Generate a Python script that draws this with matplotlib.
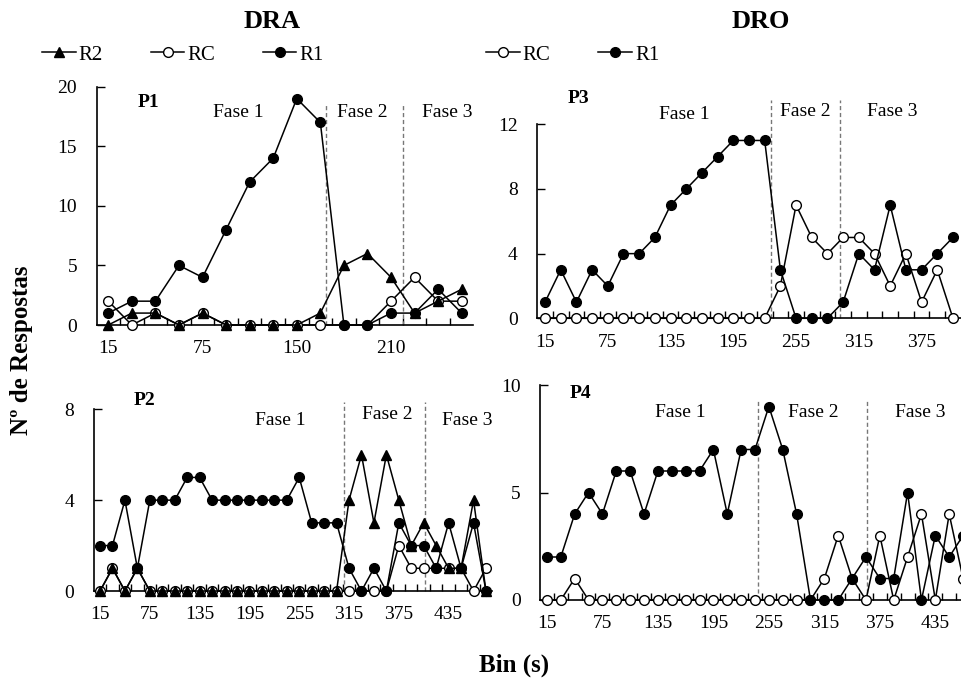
import numpy as np
import matplotlib.pyplot as plt
from matplotlib.lines import Line2D

plt.rcParams['font.family'] = ['Liberation Serif', 'DejaVu Serif']

# ---- data (responses per bin) ----
p1_r1 = [1, 2, 2, 5, 4, 8, 12, 14, 19, 17, 0, 0, 1, 1, 3, 1]
p1_r2 = [0, 1, 1, 0, 1, 0, 0, 0, 0, 1, 5, 6, 4, 1, 2, 3]
p1_rc = [2, 0, 1, 0, 1, 0, 0, 0, 0, 0, 0, 0, 2, 4, 2, 2]
p1_ticklabels = ['15', '75', '150', '210']

p2_r1 = [2, 2, 4, 1, 4, 4, 4, 5, 5, 4, 4, 4, 4, 4, 4, 4,
         5, 3, 3, 3, 1, 0, 1, 0, 3, 2, 2, 1, 3, 1, 3, 0]
p2_r2 = [0, 1, 0, 1, 0, 0, 0, 0, 0, 0, 0, 0, 0, 0, 0, 0,
         0, 0, 0, 0, 4, 6, 3, 6, 4, 2, 3, 2, 1, 1, 4, 0]
p2_rc = [0, 1, 0, 1, 0, 0, 0, 0, 0, 0, 0, 0, 0, 0, 0, 0,
         0, 0, 0, 0, 0, 0, 0, 0, 2, 1, 1, 1, 1, 1, 0, 1]
p2_ticklabels = ['15', '75', '135', '195', '255', '315', '375', '435']

p3_r1 = [1, 3, 1, 3, 2, 4, 4, 5, 7, 8, 9, 10, 11, 11, 11,
         3, 0, 0, 0, 1, 4, 3, 7, 3, 3, 4, 5]
p3_rc = [0, 0, 0, 0, 0, 0, 0, 0, 0, 0, 0, 0, 0, 0, 0,
         2, 7, 5, 4, 5, 5, 4, 2, 4, 1, 3, 0]
p3_ticklabels = ['15', '75', '135', '195', '255', '315', '375']

p4_r1 = [2, 2, 4, 5, 4, 6, 6, 4, 6, 6, 6, 6, 7, 4, 7, 7,
         9, 7, 4, 0, 0, 0, 1, 2, 1, 1, 5, 0, 3, 2, 3]
p4_rc = [0, 0, 1, 0, 0, 0, 0, 0, 0, 0, 0, 0, 0, 0, 0, 0,
         0, 0, 0, 0, 1, 3, 1, 0, 3, 0, 2, 4, 0, 4, 1]
p4_ticklabels = ['15', '75', '135', '195', '255', '315', '375', '435']

# phase boundaries (in bin index units)
p1_phases = [9.25, 12.5]
p2_phases = [19.6, 26.1]
p3_phases = [14.4, 18.8]
p4_phases = [15.25, 23.1]

W, H = 962, 686
fig = plt.figure(figsize=(W / 100, H / 100), dpi=100)


def rect(left, right, top, bottom):
    return [left / W, 1 - bottom / H, (right - left) / W, (bottom - top) / H]


def draw_panel(ax, r1, rc, r2, ticklabels, ymax, yticks, phases, dash_top,
               name, name_xy, fase_xy):
    n = len(r1)
    x = np.arange(n)
    if rc is not None:
        ax.plot(x, rc, color='black', lw=1.1, marker='o', ms=7,
                mfc='white', mec='black', mew=1.0, clip_on=False, zorder=3)
    if r2 is not None:
        ax.plot(x, r2, color='black', lw=1.1, marker='^', ms=7,
                mfc='black', mec='black', clip_on=False, zorder=4)
    ax.plot(x, r1, color='black', lw=1.1, marker='o', ms=7,
            mfc='black', mec='black', clip_on=False, zorder=5)

    ax.set_xlim(-0.5, n - 0.5)
    ax.set_ylim(0, ymax)
    ax.set_yticks(yticks)
    ax.set_xticks(np.arange(len(ticklabels)) * 4)
    ax.set_xticklabels(ticklabels)
    ax.set_xticks(np.arange(n - 1) + 0.5, minor=True)
    ax.tick_params(axis='x', which='major', length=0, pad=11, labelsize=14)
    ax.tick_params(axis='x', which='minor', direction='in', length=5,
                   width=1.0)
    ax.tick_params(axis='y', direction='in', length=6, width=1.0, pad=14,
                   labelsize=14)
    for s in ['top', 'right']:
        ax.spines[s].set_visible(False)
    for s in ['left', 'bottom']:
        ax.spines[s].set_linewidth(1.2)

    for p in phases:
        ax.plot([p, p], [0, dash_top], color='#777777', lw=1.0,
                ls=(0, (3, 2)), clip_on=False, zorder=2)

    ax.text(name_xy[0], name_xy[1], name, fontsize=14, fontweight='bold',
            ha='center', va='center')
    for i, (fx, fy) in enumerate(fase_xy):
        ax.text(fx, fy, 'Fase %d' % (i + 1), fontsize=14, ha='center',
                va='center')


ax1 = fig.add_axes(rect(96.5, 473.5, 86.7, 325))
draw_panel(ax1, p1_r1, p1_rc, p1_r2, p1_ticklabels, 20, [0, 5, 10, 15, 20],
           p1_phases, 18.6, 'P1', (1.7, 18.7),
           [(5.5, 17.8), (10.76, 17.8), (14.4, 17.8)])

ax3 = fig.add_axes(rect(537.2, 960.8, 124.3, 318.3))
draw_panel(ax3, p3_r1, p3_rc, None, p3_ticklabels, 12, [0, 4, 8, 12],
           p3_phases, 13.5, 'P3', (2.1, 13.6),
           [(8.9, 12.6), (16.6, 12.8), (22.1, 12.8)])

ax2 = fig.add_axes(rect(93.8, 492.2, 409.3, 591))
draw_panel(ax2, p2_r1, p2_rc, p2_r2, p2_ticklabels, 8, [0, 4, 8],
           p2_phases, 8.3, 'P2', (3.6, 8.4),
           [(14.5, 7.5), (23.1, 7.75), (29.5, 7.5)])

ax4 = fig.add_axes(rect(540, 970, 385, 600))
draw_panel(ax4, p4_r1, p4_rc, None, p4_ticklabels, 10, [0, 5, 10],
           p4_phases, 9.3, 'P4', (2.4, 9.6),
           [(9.6, 8.7), (19.2, 8.7), (26.9, 8.7)])

# titles
fig.text(272 / W, 1 - 22 / H, 'DRA', fontsize=19, fontweight='bold',
         ha='center', va='center')
fig.text(761 / W, 1 - 22 / H, 'DRO', fontsize=19, fontweight='bold',
         ha='center', va='center')

# legends
h_r2 = Line2D([], [], color='black', lw=1.1, marker='^', ms=7, mfc='black')
h_rc = Line2D([], [], color='black', lw=1.1, marker='o', ms=7,
              mfc='white', mec='black')
h_r1 = Line2D([], [], color='black', lw=1.1, marker='o', ms=7, mfc='black')
leg_kw = dict(frameon=False, fontsize=15, handlelength=1.6,
              handletextpad=0.15, columnspacing=2.3, borderaxespad=0)
fig.legend([h_r2, h_rc, h_r1], ['R2', 'RC', 'R1'], ncol=3, loc='center left',
           bbox_to_anchor=(34 / W, 1 - 55 / H), **leg_kw)
fig.legend([h_rc, h_r1], ['RC', 'R1'], ncol=2, loc='center left',
           bbox_to_anchor=(478 / W, 1 - 55 / H), **leg_kw)

# axis labels
fig.text(22 / W, 1 - 350 / H, 'Nº de Respostas', fontsize=18,
         fontweight='bold', rotation=90, ha='center', va='center')
fig.text(514 / W, 1 - 665 / H, 'Bin (s)', fontsize=18, fontweight='bold',
         ha='center', va='center')

fig.savefig('out.png', dpi=100)
